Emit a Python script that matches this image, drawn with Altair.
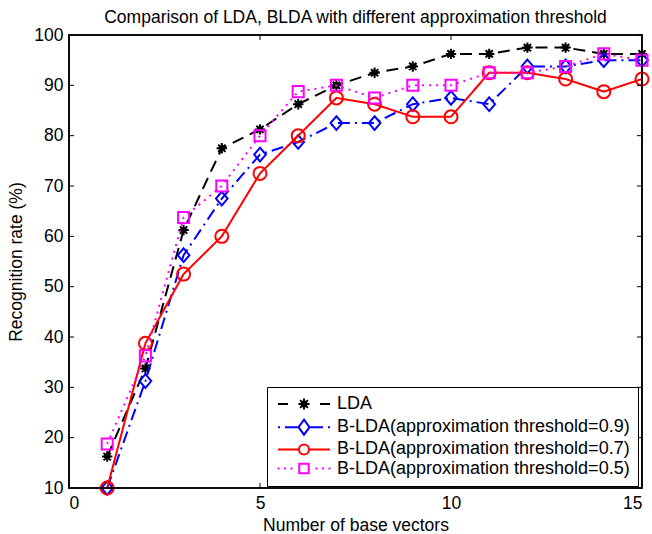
import altair as alt
import pandas as pd

# ---------------- data ----------------
x_vals = list(range(1, 16))
series_names = [
    "LDA",
    "B-LDA(approximation threshold=0.9)",
    "B-LDA(approximation threshold=0.7)",
    "B-LDA(approximation threshold=0.5)",
]
lda = [16.25, 33.75, 61.25, 77.5, 81.25, 86.25, 90, 92.5, 93.75, 96.25, 96.25, 97.5, 97.5, 96.25, 96.25]
blda_09 = [10, 31.25, 56.25, 67.5, 76.25, 78.75, 82.5, 82.5, 86.25, 87.5, 86.25, 93.75, 93.75, 95, 95]
blda_07 = [10, 38.75, 52.5, 60, 72.5, 80, 87.5, 86.25, 83.75, 83.75, 92.5, 92.5, 91.25, 88.75, 91.25]
blda_05 = [18.75, 36.25, 63.75, 70, 80, 88.75, 90, 87.5, 90, 90, 92.5, 92.5, 93.75, 96.25, 95]
series_values = [lda, blda_09, blda_07, blda_05]

x_ticks = [0, 5, 10, 15]
y_ticks = [10, 20, 30, 40, 50, 60, 70, 80, 90, 100]

# ---------------- styles ----------------
colors = ["#000000", "#0000ff", "#ff0000", "#ff00ff"]
dashes = [[12, 7], [12, 5, 2, 5], [1, 0], [2, 5]]

circ = lambda r: f"M{-r},0A{r},{r} 0 1,0 {r},0A{r},{r} 0 1,0 {-r},0Z"
ast = lambda r: (f"M{-r},0L{r},0M0,{-r}L0,{r}"
                 f"M{-0.7*r:.3f},{-0.7*r:.3f}L{0.7*r:.3f},{0.7*r:.3f}"
                 f"M{-0.7*r:.3f},{0.7*r:.3f}L{0.7*r:.3f},{-0.7*r:.3f}")

marker_paths = [
    ast(0.8) + circ(0.35),
    "M0,-1.05L0.9,0L0,1.05L-0.9,0Z",
    circ(1),
    "M-0.85,-0.85L0.85,-0.85L0.85,0.85L-0.85,0.85Z",
]
legend_paths = [
    "M-5.2,0L-3.2,0M3.2,0L5.2,0" + ast(1.1) + circ(0.5),
    "M-5.2,0L-4.8,0M-3.8,0L-1.2,0M1.2,0L3.8,0M4.8,0L5.2,0" + "M0,-1.5L1.1,0L0,1.5L-1.1,0Z",
    "M-5.2,0L-1,0M1,0L5.2,0" + circ(1),
    "M-5.3,0L-4.9,0M-4,0L-3.6,0M-2.7,0L-2.3,0M2.3,0L2.7,0M3.6,0L4,0M4.9,0L5.3,0"
    + "M-0.95,-0.95L0.95,-0.95L0.95,0.95L-0.95,0.95Z",
]

W, H = 573, 453
FONT = "Liberation Sans"
FS = 17.5

xscale = alt.Scale(domain=[0, 15], nice=False, zero=False)
yscale = alt.Scale(domain=[10, 100], nice=False, zero=False)

x_axis = alt.Axis(values=x_ticks, title="Number of base vectors", ticks=False,
                  domain=False, grid=False, labelPadding=6, titlePadding=5,
                  format="d", labelFont=FONT, labelFontSize=FS, labelColor="black",
                  titleFont=FONT, titleFontSize=FS, titleColor="black",
                  titleFontWeight="normal")
y_axis = alt.Axis(values=y_ticks, title="Recognition rate (%)", ticks=False,
                  domain=False, grid=False, labelPadding=6, titlePadding=8,
                  format="d", labelFont=FONT, labelFontSize=FS, labelColor="black",
                  titleFont=FONT, titleFontSize=FS, titleColor="black",
                  titleFontWeight="normal")

X = alt.X("x:Q", scale=xscale, axis=x_axis)
Y = alt.Y("y:Q", scale=yscale, axis=y_axis)

layers = []
for name, vals, c, d, mp in zip(series_names, series_values, colors, dashes, marker_paths):
    df = pd.DataFrame({"x": x_vals, "y": vals, "series": name})
    base = alt.Chart(df)
    layers.append(base.mark_line(color=c, strokeDash=d, strokeWidth=2).encode(x=X, y=Y))
    layers.append(base.mark_point(shape=mp, size=169, color=c, filled=False,
                                  strokeWidth=2, opacity=1).encode(x=X, y=Y))

# inward ticks on all four sides
xt = alt.Chart(pd.DataFrame({"x": x_ticks}))
yt = alt.Chart(pd.DataFrame({"y": y_ticks}))
layers += [
    xt.mark_rule(color="black", strokeWidth=1).encode(x=X, y=alt.value(H), y2=alt.value(H - 5)),
    xt.mark_rule(color="black", strokeWidth=1).encode(x=X, y=alt.value(0), y2=alt.value(5)),
    yt.mark_rule(color="black", strokeWidth=1).encode(y=Y, x=alt.value(0), x2=alt.value(5)),
    yt.mark_rule(color="black", strokeWidth=1).encode(y=Y, x=alt.value(W), x2=alt.value(W - 5)),
]

# plot frame (box on)
frame = alt.Chart(pd.DataFrame({"f": [0]})).mark_rect(
    fill=None, fillOpacity=0, stroke="black", strokeWidth=1.6
).encode(x=alt.value(0), x2=alt.value(W), y=alt.value(0), y2=alt.value(H))
layers.append(frame)

# legend-only layer
leg = alt.Legend(title=None, orient="none", legendX=198, legendY=352,
                 strokeColor="black", fillColor="white", padding=8,
                 labelFont=FONT, labelFontSize=18, labelColor="black",
                 symbolSize=100, symbolStrokeWidth=2, symbolOffset=20,
                 labelOffset=24, rowPadding=1.2, labelLimit=0)
legend_df = pd.DataFrame({"series": series_names})
legend_layer = alt.Chart(legend_df).transform_filter("false").mark_point(
    filled=False, strokeWidth=2, opacity=1
).encode(
    color=alt.Color("series:N", scale=alt.Scale(domain=series_names, range=colors), legend=leg),
    shape=alt.Shape("series:N", scale=alt.Scale(domain=series_names, range=legend_paths), legend=leg),
)
layers.append(legend_layer)

chart = alt.layer(*layers).properties(
    width=W, height=H,
    background="white",
    title=alt.Title("Comparison of LDA, BLDA with different approximation threshold",
                    fontSize=FS, fontWeight="normal", font=FONT, color="black",
                    anchor="middle", offset=0),
    autosize=alt.AutoSizeParams(type="none"),
    padding={"left": 69, "top": 35, "right": 10, "bottom": 46},
).configure_view(
    stroke="black", strokeWidth=1.5
)

chart.save("out.html", embed_options={"renderer": "svg", "actions": False})
